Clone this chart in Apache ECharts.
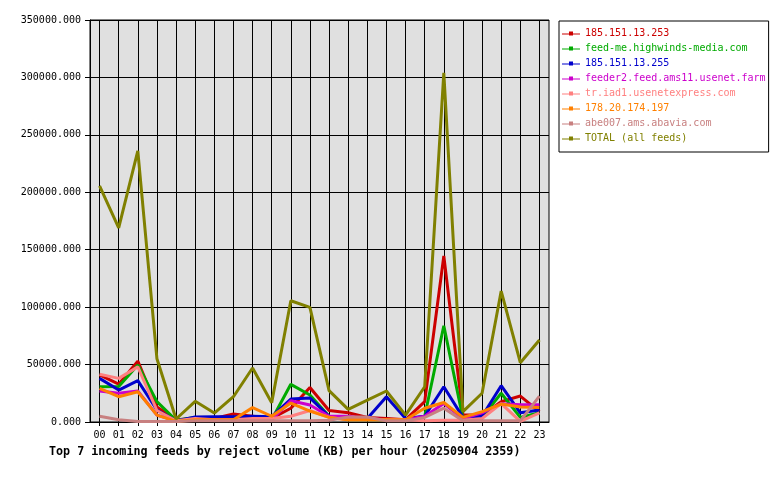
<!DOCTYPE html>
<html>
<head>
<meta charset="utf-8">
<script src="https://cdn.jsdelivr.net/npm/echarts@6/dist/echarts.min.js"></script>
<style>
  html, body { margin: 0; padding: 0; background: #fff; }
  #chart { width: 780px; height: 480px; }
</style>
</head>
<body>
<div id="chart"></div>
<script>
const hours = ["00","01","02","03","04","05","06","07","08","09","10","11",
               "12","13","14","15","16","17","18","19","20","21","22","23"];

const feedNames = [
  "185.151.13.253",
  "feed-me.highwinds-media.com",
  "185.151.13.255",
  "feeder2.feed.ams11.usenet.farm",
  "tr.iad1.usenetexpress.com",
  "178.20.174.197",
  "abe007.ams.abavia.com",
  "TOTAL (all feeds)"
];

const feedColors = ["#cc0000", "#00aa00", "#0000cc", "#cc00cc", "#ff8080", "#ff8000", "#c88080", "#808000"];

// reject volume (KB) per hour
const red253 =    [41000, 33000, 53000, 13000, 2000, 3000, 3000, 7000, 5000, 3000, 12000, 30000,
                   10000, 8000, 4000, 3000, 2000, 17700, 144500, 6000, 6000, 17700, 22600, 9000];
const highwinds = [30700, 31000, 49600, 17700, 1500, 4000, 2000, 2000, 2000, 2000, 32800, 23500,
                   5000, 2000, 2000, 2000, 2000, 5000, 83800, 3000, 4000, 25000, 4000, 8000];
const blue255 =   [38000, 27800, 36000, 10400, 1000, 4300, 4600, 4600, 5000, 4600, 20000, 21000,
                   5000, 4000, 3000, 22000, 3000, 5000, 30700, 4000, 5000, 31600, 8000, 10400];
const ams11 =     [27000, 25000, 27000, 6000, 1000, 2000, 2000, 2000, 2000, 2000, 18500, 14800,
                   5000, 5000, 3000, 2000, 2000, 5000, 16000, 3000, 8000, 16000, 15000, 15000];
const iad1 =      [41500, 38000, 48000, 10000, 1000, 3000, 2000, 2000, 3000, 3000, 5000, 10000,
                   4000, 2000, 2000, 2000, 2000, 1000, 1500, 1500, 3000, 16000, 500, 8000];
const ip197 =     [29300, 22000, 26400, 6000, 500, 2000, 2000, 2000, 12500, 5000, 16500, 9500,
                   4000, 2000, 2000, 2000, 2000, 12000, 17000, 4000, 9000, 15600, 13000, 12700];
const abavia =    [5000, 2000, 500, 500, 500, 1000, 1000, 1000, 1000, 1000, 1000, 1000,
                   1500, 4300, 4300, 1000, 1000, 4000, 12000, 1000, 1000, 1000, 1000, 22600];
const total =     [205500, 169000, 236000, 55000, 2600, 18000, 7800, 22000, 47000, 16800, 105600, 99800,
                   27300, 11000, 19000, 27000, 6000, 30700, 304000, 9000, 25000, 114000, 51600, 71400];

const feedValues = [red253, highwinds, blue255, ams11, iad1, ip197, abavia, total];

const MONO = "DejaVu Sans Mono";
// thin line with a tiny square in the middle, like the gd legend marks
const LEGEND_ICON = "path://M0,6H7V4H11V6H18V7H11V8H7V7H0Z";

const chart = echarts.init(document.getElementById("chart"), null, { renderer: "canvas" });

chart.setOption({
  animation: false,
  backgroundColor: "#ffffff",
  title: {
    text: "Top 7 incoming feeds by reject volume (KB) per hour (20250904 2359)",
    left: 44,
    top: 441,
    textStyle: { fontFamily: MONO, fontSize: 11.7, fontWeight: "bold", color: "#000" }
  },
  legend: {
    orient: "vertical",
    left: 559,
    top: 21,
    padding: [5, 3, 6, 3],
    itemGap: 0,
    itemWidth: 18,
    itemHeight: 4,
    icon: LEGEND_ICON,
    backgroundColor: "#ffffff",
    borderColor: "#000000",
    borderWidth: 1,
    borderRadius: 0,
    selectedMode: false,
    data: feedNames.map((n, i) => ({
      name: n,
      itemStyle: { color: feedColors[i] },
      textStyle: { color: feedColors[i] }
    })),
    textStyle: { fontFamily: MONO, fontSize: 10, lineHeight: 15 }
  },
  grid: {
    left: 90,
    top: 20,
    width: 459,
    height: 402,
    show: true,
    backgroundColor: "#e0e0e0",
    borderColor: "#000000",
    borderWidth: 1,
    containLabel: false
  },
  xAxis: {
    type: "category",
    data: hours,
    boundaryGap: true,
    axisLine: { show: true, lineStyle: { color: "#000", width: 1 } },
    axisTick: { show: true, alignWithLabel: true, length: 4, lineStyle: { color: "#000" } },
    axisLabel: { fontFamily: MONO, fontSize: 10, color: "#000", margin: 8, interval: 0 },
    splitLine: { show: true, alignWithLabel: true, lineStyle: { color: "#000", width: 1 } }
  },
  yAxis: {
    type: "value",
    min: 0,
    max: 350000,
    interval: 50000,
    axisLine: { show: true, lineStyle: { color: "#000", width: 1 } },
    axisTick: { show: true, length: 5, lineStyle: { color: "#000" } },
    axisLabel: {
      fontFamily: MONO, fontSize: 10, color: "#000", margin: 9,
      formatter: v => v.toFixed(3)
    },
    splitLine: { show: true, lineStyle: { color: "#000", width: 1 } }
  },
  series: feedNames.map((n, i) => ({
    name: n,
    type: "line",
    data: feedValues[i],
    color: feedColors[i],
    symbol: "emptyRect",
    symbolSize: 4,
    showSymbol: false,
    lineStyle: { width: 3, color: feedColors[i] },
    emphasis: { disabled: true }
  }))
});
</script>
</body>
</html>
